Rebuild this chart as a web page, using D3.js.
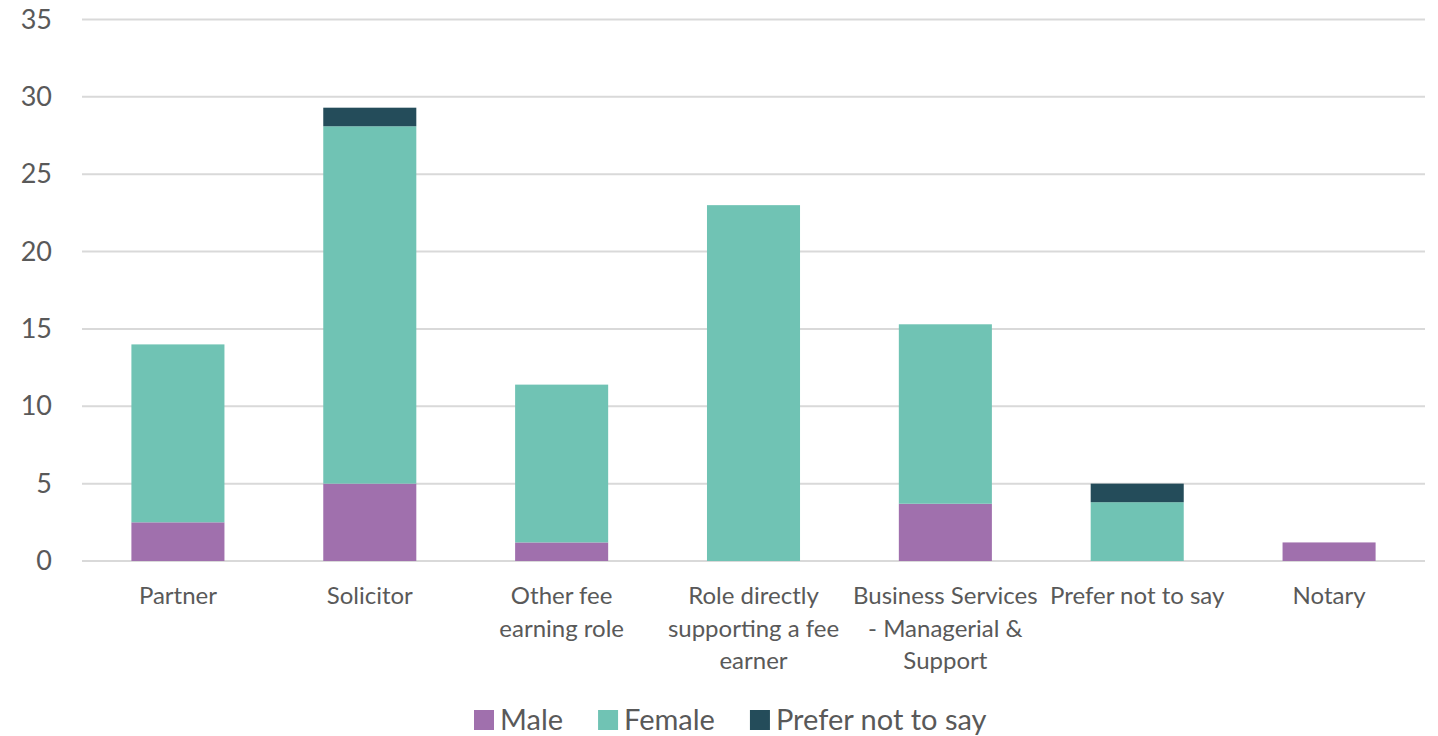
<!DOCTYPE html>
<html>
<head>
<meta charset="utf-8">
<script src="https://cdn.jsdelivr.net/npm/d3@7"></script>
<style>
  body { margin: 0; background: #ffffff; }
  svg { display: block; font-family: Lato, "Open Sans", sans-serif; }
</style>
</head>
<body>
<svg id="chart"></svg>
<script>
const categories = [
  ["Partner"],
  ["Solicitor"],
  ["Other fee", "earning role"],
  ["Role directly", "supporting a fee", "earner"],
  ["Business Services", "- Managerial &", "Support"],
  ["Prefer not to say"],
  ["Notary"]
]
const male = [2.5, 5.0, 1.2, 0, 3.7, 0, 1.2]
const female = [11.5, 23.1, 10.2, 23.0, 11.6, 3.8, 0]
const preferNot = [0, 1.2, 0, 0, 0, 1.2, 0]
const seriesNames = ["Male", "Female", "Prefer not to say"]
const seriesColors = ["#a070ad", "#70c3b4", "#244c5a"]
const yTicks = [0, 5, 10, 15, 20, 25, 30, 35]

const width = 1438
const height = 736
const margin = { top: 19.5, right: 13, bottom: 175, left: 82 }
const innerWidth = width - margin.left - margin.right
const innerHeight = height - margin.top - margin.bottom

const svg = d3.select("#chart").attr("width", width).attr("height", height)
const g = svg.append("g").attr("transform", `translate(${margin.left},${margin.top})`)

const rows = categories.map((c, i) => ({
  key: c.join(" "), lines: c,
  Male: male[i], Female: female[i], "Prefer not to say": preferNot[i]
}))

const xScale = d3.scaleBand()
  .domain(rows.map(d => d.key))
  .range([0, innerWidth])
  .paddingInner(0.515)
  .paddingOuter(0.2575)

const yScale = d3.scaleLinear().domain([0, 35]).range([innerHeight, 0])

// gridlines
g.append("g")
  .selectAll("line")
  .data(yTicks)
  .enter().append("line")
  .attr("x1", 0).attr("x2", innerWidth)
  .attr("y1", d => yScale(d)).attr("y2", d => yScale(d))
  .style("stroke", "#d9d9d9")
  .style("stroke-width", 2)

// y axis labels
const yAxis = g.append("g")
  .call(d3.axisLeft(yScale).tickValues(yTicks).tickSize(0).tickPadding(30))
yAxis.select(".domain").remove()
yAxis.selectAll("text")
  .style("font-family", "Lato, sans-serif")
  .style("font-size", "27px")
  .style("fill", "#595959")

// stacked bars
const stack = d3.stack().keys(seriesNames)(rows)
g.selectAll(".series")
  .data(stack)
  .enter().append("g")
  .attr("class", "series")
  .style("fill", (d, i) => seriesColors[i])
  .selectAll("rect")
  .data(d => d.filter(p => p[1] - p[0] > 0))
  .enter().append("rect")
  .attr("x", d => xScale(d.data.key))
  .attr("width", xScale.bandwidth())
  .attr("y", d => yScale(d[1]))
  .attr("height", d => yScale(d[0]) - yScale(d[1]))

// category labels (wrapped like the original)
const labels = g.append("g").attr("transform", `translate(0,${innerHeight})`)
rows.forEach(row => {
  const t = labels.append("text")
    .attr("text-anchor", "middle")
    .attr("transform", `translate(${xScale(row.key) + xScale.bandwidth() / 2},0)`)
    .style("font-family", "Lato, sans-serif")
    .style("font-size", "24px")
    .style("fill", "#595959")
  row.lines.forEach((ln, i) => {
    t.append("tspan").attr("x", 0).attr("y", 43 + i * 32.5).text(ln)
  })
})

// legend
const legend = svg.append("g").attr("transform", `translate(474, 720)`)
let lx = 0
seriesNames.forEach((name, i) => {
  const item = legend.append("g").attr("transform", `translate(${lx},0)`)
  item.append("rect")
    .attr("x", 0).attr("y", -10)
    .attr("width", 20).attr("height", 20)
    .style("fill", seriesColors[i])
  const txt = item.append("text")
    .attr("x", 26).attr("y", 0).attr("dy", "0.35em")
    .style("font-family", "Lato, sans-serif")
    .style("font-size", "29px")
    .style("fill", "#595959")
    .text(name)
  lx += 26 + txt.node().getComputedTextLength() + 35
})
</script>
</body>
</html>
